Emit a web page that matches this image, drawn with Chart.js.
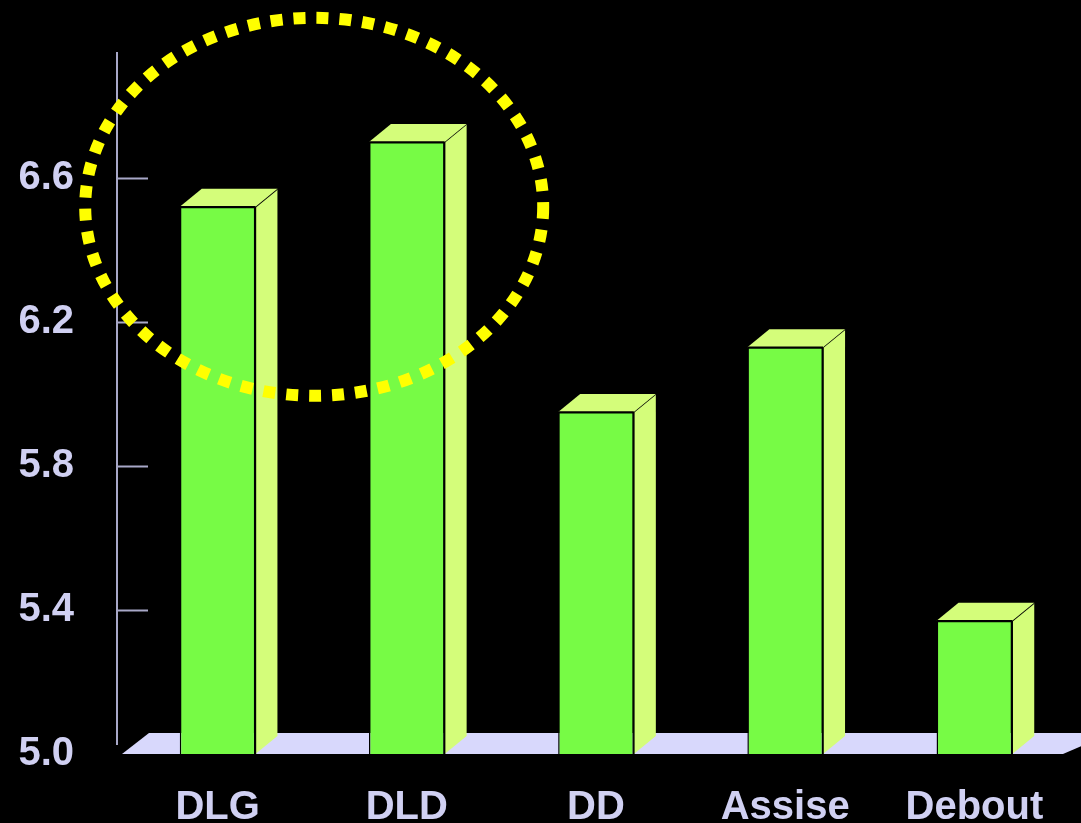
<!DOCTYPE html>
<html>
<head>
<meta charset="utf-8">
<script src="https://cdn.jsdelivr.net/npm/chart.js@4.4.1/dist/chart.umd.min.js"></script>
<style>
  html, body { margin: 0; padding: 0; background: #000; }
  #wrap { width: 1081px; height: 823px; }
</style>
</head>
<body>
<div id="wrap"><canvas id="c" width="1081" height="823"></canvas></div>
<script>
// ---- data ----
const categories = ['DLG', 'DLD', 'DD', 'Assise', 'Debout'];
const values = [6.52, 6.70, 5.95, 6.13, 5.37];
const tickValues = [5.0, 5.4, 5.8, 6.2, 6.6];
const yMin = 5.0;
const yMax = 6.95;
const highlight = { from: 'DLG', to: 'DLD', value: 6.52 }; // circled region

const FRONT = '#77fb45';
const SIDE = '#d4fd7a';
const FLOOR = '#d8d8fc';
const TEXT = '#d0d0f2';
const AXIS = '#a8a8c8';
const DX = 22, DY = 18;

const threeD = {
  id: 'threeD',
  beforeDatasetsDraw(chart) {
    const { ctx, chartArea: a, scales: { y } } = chart;
    ctx.save();
    const ax = a.left - 6;
    ctx.strokeStyle = AXIS;
    ctx.lineWidth = 2;
    ctx.beginPath();
    ctx.moveTo(ax, a.top);
    ctx.lineTo(ax, a.bottom - 9);
    tickValues.forEach(v => {
      const py = Math.round(y.getPixelForValue(v)) + 0.5;
      if (py > a.bottom - 9) return;
      ctx.moveTo(ax, py);
      ctx.lineTo(ax + 31, py);
    });
    ctx.stroke();
    ctx.fillStyle = FLOOR;
    ctx.beginPath();
    ctx.moveTo(a.left - 1, a.bottom);
    ctx.lineTo(a.left - 1 + 27, a.bottom - 21);
    ctx.lineTo(chart.width + 30, a.bottom - 21);
    ctx.lineTo(a.right - 6, a.bottom);
    ctx.closePath();
    ctx.fill();
    ctx.restore();
  },
  afterDatasetsDraw(chart) {
    const { ctx, chartArea: a } = chart;
    const meta = chart.getDatasetMeta(0);
    ctx.save();
    ctx.lineWidth = 1.5;
    ctx.strokeStyle = '#000';
    meta.data.forEach(bar => {
      const l = bar.x - bar.width / 2, r = bar.x + bar.width / 2;
      const t = bar.y, b = a.bottom;
      ctx.fillStyle = SIDE;
      ctx.beginPath();
      ctx.moveTo(r, t);
      ctx.lineTo(r + DX, t - DY);
      ctx.lineTo(r + DX, b - DY);
      ctx.lineTo(r, b);
      ctx.closePath();
      ctx.fill();
      ctx.beginPath();
      ctx.moveTo(r, t);
      ctx.lineTo(r + DX, t - DY);
      ctx.stroke();
      ctx.beginPath();
      ctx.moveTo(l, t);
      ctx.lineTo(l + DX, t - DY);
      ctx.lineTo(r + DX, t - DY);
      ctx.lineTo(r, t);
      ctx.closePath();
      ctx.fill();
      ctx.beginPath();
      ctx.moveTo(r, t);
      ctx.lineTo(r, b);
      ctx.moveTo(l, t);
      ctx.lineTo(r, t);
      ctx.stroke();
    });
    ctx.restore();
  },
  afterDraw(chart) {
    const { ctx, scales: { x, y } } = chart;
    const cx = (x.getPixelForValue(categories.indexOf(highlight.from)) +
                x.getPixelForValue(categories.indexOf(highlight.to))) / 2;
    const cy = y.getPixelForValue(highlight.value);
    ctx.save();
    ctx.strokeStyle = '#ffff00';
    ctx.lineWidth = 12;
    ctx.setLineDash([12, 11]);
    ctx.beginPath();
    ctx.ellipse(cx + 2, cy, 229, 189, 0, 0, Math.PI * 2);
    ctx.stroke();
    ctx.restore();
  }
};

new Chart(document.getElementById('c'), {
  type: 'bar',
  data: {
    labels: categories,
    datasets: [{
      data: values,
      backgroundColor: FRONT,
      borderColor: '#000',
      borderWidth: 1.5,
      borderSkipped: false,
      barPercentage: 0.4,
      categoryPercentage: 1.0
    }]
  },
  options: {
    responsive: false,
    animation: false,
    events: [],
    layout: { padding: { top: 52, right: 12, left: 0, bottom: 0 } },
    plugins: { legend: { display: false }, tooltip: { enabled: false } },
    scales: {
      x: {
        grid: { display: false },
        border: { display: false },
        ticks: {
          color: TEXT,
          font: { family: '"Liberation Sans", Arial, sans-serif', size: 40, weight: 'bold' },
          padding: 22,
          maxRotation: 0
        },
        afterFit(s) { s.height = 69; s.paddingLeft = 0; s.paddingRight = 0; s.paddingTop = 0; s.paddingBottom = 0; }
      },
      y: {
        min: yMin,
        max: yMax,
        grid: { display: false },
        border: { display: false },
        afterBuildTicks(s) { s.ticks = tickValues.map(v => ({ value: v })); },
        ticks: {
          color: TEXT,
          font: { family: '"Liberation Sans", Arial, sans-serif', size: 40, weight: 'bold' },
          padding: 41,
          callback: v => v.toFixed(1)
        },
        afterFit(s) { s.width = 123; s.paddingTop = 0; s.paddingBottom = 0; s.paddingLeft = 0; s.paddingRight = 0; }
      }
    }
  },
  plugins: [threeD]
});
</script>
</body>
</html>
